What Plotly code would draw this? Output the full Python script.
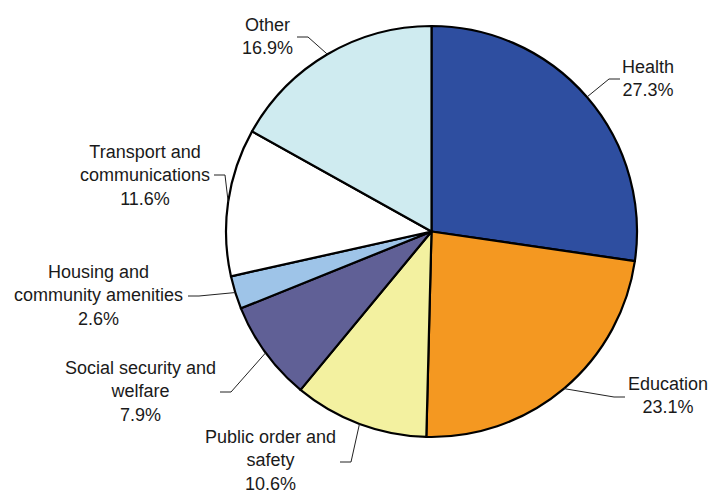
import math
import plotly.graph_objects as go

# ---- data ----
categories = ["Health", "Education", "Public order and<br>safety",
              "Social security and<br>welfare", "Housing and<br>community amenities",
              "Transport and<br>communications", "Other"]
values = [27.3, 23.1, 10.6, 7.9, 2.6, 11.6, 16.9]
colors = ["#2E4EA0", "#F49821", "#F3F1A0", "#606096", "#9EC4E8", "#FFFFFF", "#CFEBF0"]

# ---- layout (pixel positions of label text centre and leader start, side of elbow) ----
W, H = 711, 490
label_pos = [  # (text cx, text cy, leader start x, leader start y, elbow direction)
    (648, 78, 620, 79, -1),
    (668, 395, 625, 397, -1),
    (270, 460, 340, 462, 1),
    (140, 391, 220, 392, 1),
    (98, 295, 188, 296, 1),
    (145, 175, 214, 175, 1),
    (267, 36, 297, 37, 1),
]
dom_x = [226 / W, 637 / W]
dom_y = [1 - 437 / H, 1 - 26 / H]

fig = go.Figure(go.Pie(
    labels=categories, values=values, sort=False, direction="clockwise",
    rotation=0, textinfo="none", hoverinfo="label+percent",
    marker=dict(colors=colors, line=dict(color="#000000", width=2.2)),
    domain=dict(x=dom_x, y=dom_y), showlegend=False,
))

cx = (dom_x[0] + dom_x[1]) / 2 * W
cy = (1 - (dom_y[0] + dom_y[1]) / 2) * H
r = min((dom_x[1] - dom_x[0]) * W, (dom_y[1] - dom_y[0]) * H) / 2

total = sum(values)
cum = 0.0
shapes, annotations = [], []
for name, v, (tx, ty, sx, sy, d) in zip(categories, values, label_pos):
    mid = (cum + v / 2) / total * 2 * math.pi
    cum += v
    ex = cx + r * math.sin(mid)
    ey = cy - r * math.cos(mid)
    bx = sx + 11 * d
    px = lambda x: x / W
    py = lambda y: 1 - y / H
    path = f"M {px(sx)},{py(sy)} L {px(bx)},{py(sy)} L {px(ex)},{py(ey)}"
    shapes.append(dict(type="path", path=path, xref="paper", yref="paper",
                       line=dict(color="#222222", width=1)))
    annotations.append(dict(
        x=px(tx), y=py(ty), xref="paper", yref="paper", showarrow=False,
        text=f"{name}<br>{v:.1f}%", align="center", xanchor="center", yanchor="middle",
        font=dict(family="Liberation Sans, Arial, sans-serif", size=18, color="#1a1a1a"),
    ))

fig.update_layout(
    width=W, height=H, margin=dict(l=0, r=0, t=0, b=0),
    paper_bgcolor="white", plot_bgcolor="white",
    shapes=shapes, annotations=annotations,
)
fig.write_html("out.html")
